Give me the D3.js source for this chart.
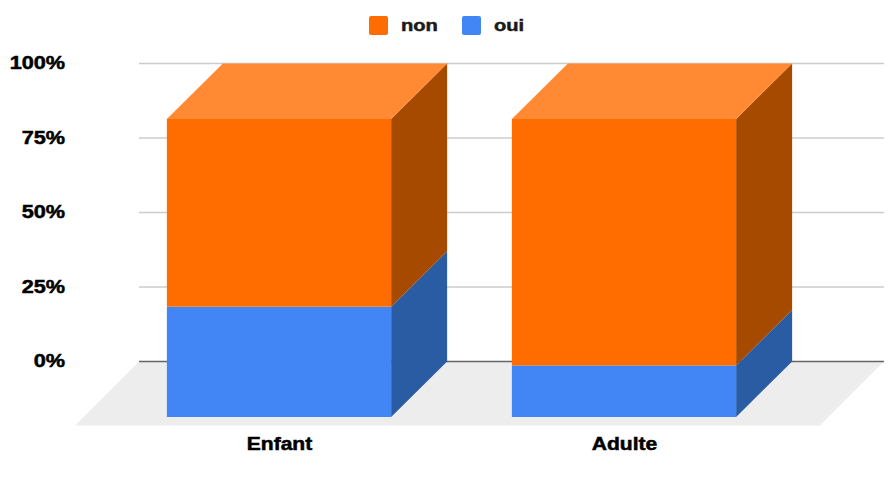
<!DOCTYPE html>
<html>
<head>
<meta charset="utf-8">
<script src="https://cdn.jsdelivr.net/npm/d3@7"></script>
<style>
  html, body { margin: 0; padding: 0; background: #fff; }
  svg { display: block; }
  svg text { font-family: "Liberation Sans", Arial, sans-serif; font-weight: bold; stroke-width: 0.5; }
</style>
</head>
<body>
<div id="chart"></div>
<script>
const categories = ['Enfant', 'Adulte'];
const seriesNames = ['oui', 'non'];
const oui = [37, 17.3];
const non = [63, 82.7];
const tickValues = [0, 25, 50, 75, 100];

const width = 893, height = 477;

// Depth of the 3D bars and of the floor, back wall to front
const DEPTH_X = 56, DEPTH_Y = 55.5;
const FLOOR_DEPTH = 64;
// The labels are wider than the font's natural width
const TEXT_STRETCH = 1.17;

const colors = {
  oui: { front: '#4285f4', side: '#2a5ca3' },
  non: { front: '#ff6d00', side: '#a64a00', top: '#ff8a33' }
};

const x = d3.scaleBand()
  .domain(categories)
  .range([106.5, 796.5])
  .paddingInner(0.35)
  .paddingOuter(0.175);

// y follows the back wall, front faces are shifted by the depth
const y = d3.scaleLinear().domain([0, 100]).range([361.5, 63.5]);

const rows = categories.map((c, i) => ({ category: c, oui: oui[i], non: non[i] }));
const stacked = d3.stack().keys(seriesNames)(rows);

const svg = d3.select('#chart').append('svg')
  .attr('width', width)
  .attr('height', height)
  .attr('viewBox', [0, 0, width, height]);

function stretch(selection) {
  selection.each(function() {
    const w = this.getComputedTextLength();
    d3.select(this)
      .attr('textLength', w * TEXT_STRETCH)
      .attr('lengthAdjust', 'spacingAndGlyphs');
  });
}

// Floor
const floorLeft = 139, floorRight = 884;
svg.append('path')
  .attr('d', d3.line()([
    [floorLeft, y(0)],
    [floorRight, y(0)],
    [floorRight - FLOOR_DEPTH, y(0) + FLOOR_DEPTH],
    [floorLeft - FLOOR_DEPTH, y(0) + FLOOR_DEPTH]
  ]) + 'Z')
  .attr('fill', '#ededed');

// Gridlines and value labels
const yAxis = d3.axisLeft(y)
  .tickValues(tickValues)
  .tickSize(0)
  .tickPadding(0)
  .tickFormat(d => d + '%');

const axisG = svg.append('g')
  .attr('transform', 'translate(65, -0.5)')
  .call(yAxis);
axisG.select('.domain').remove();
axisG.selectAll('text')
  .attr('font-size', 18.5)
  .attr('font-family', null)
  .attr('fill', '#000')
  .attr('stroke', '#000')
  .call(stretch);

svg.append('g').selectAll('line')
  .data(tickValues)
  .join('line')
  .attr('x1', floorLeft)
  .attr('x2', floorRight)
  .attr('y1', d => y(d))
  .attr('y2', d => y(d))
  .attr('stroke', d => d === 0 ? '#666' : '#ccc')
  .attr('stroke-width', 1.3);

// Bars
const bars = svg.append('g');
stacked.forEach(layer => {
  const c = colors[layer.key];
  layer.forEach(d => {
    const x0 = x(d.data.category);
    const x1 = x0 + x.bandwidth();
    const yLow = y(d[0]);
    const yHigh = y(d[1]);

    // side
    bars.append('path')
      .attr('d', d3.line()([
        [x1, yLow + DEPTH_Y],
        [x1 + DEPTH_X, yLow],
        [x1 + DEPTH_X, yHigh],
        [x1, yHigh + DEPTH_Y]
      ]) + 'Z')
      .attr('fill', c.side);

    // front
    bars.append('rect')
      .attr('x', x0)
      .attr('y', yHigh + DEPTH_Y)
      .attr('width', x.bandwidth())
      .attr('height', yLow - yHigh)
      .attr('fill', c.front);

    // top, only the last series shows it
    if (c.top) {
      bars.append('path')
        .attr('d', d3.line()([
          [x0, yHigh + DEPTH_Y],
          [x0 + DEPTH_X, yHigh],
          [x1 + DEPTH_X, yHigh],
          [x1, yHigh + DEPTH_Y]
        ]) + 'Z')
        .attr('fill', c.top);
    }
  });
});

// Category labels
svg.append('g').selectAll('text')
  .data(categories)
  .join('text')
  .attr('x', d => x(d) + x.bandwidth() / 2 + 0.5)
  .attr('y', 449.5)
  .attr('text-anchor', 'middle')
  .attr('font-size', 18)
  .attr('fill', '#000')
  .attr('stroke', '#000')
  .text(d => d)
  .call(stretch);

// Legend, non comes first
const legendItems = [
  { name: 'non', x: 369 },
  { name: 'oui', x: 462 }
];
const legend = svg.append('g').selectAll('g')
  .data(legendItems)
  .join('g')
  .attr('transform', d => `translate(${d.x}, 16)`);

legend.append('rect')
  .attr('width', 19)
  .attr('height', 19)
  .attr('rx', 2)
  .attr('fill', d => colors[d.name].front);

legend.append('text')
  .attr('x', 32)
  .attr('y', 15)
  .attr('font-size', 17.2)
  .attr('fill', '#1a1a1a')
  .attr('stroke', '#1a1a1a')
  .text(d => d.name)
  .call(stretch);
</script>
</body>
</html>
